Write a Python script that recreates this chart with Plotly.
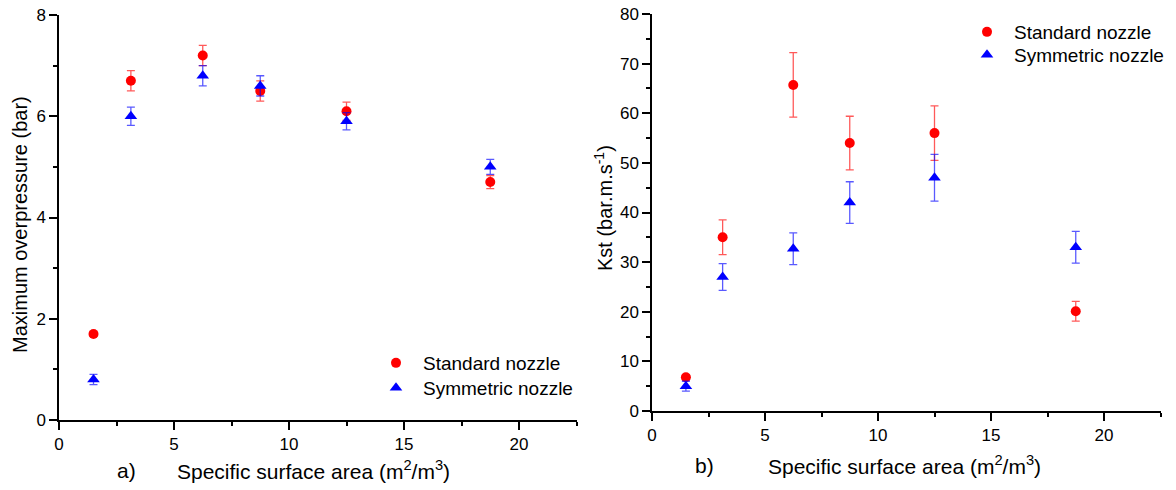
import plotly.graph_objects as go

# ---------------- data ----------------
ssa = [1.5, 3.125, 6.25, 8.75, 12.5, 18.75]

pmax_std = [1.7, 6.7, 7.2, 6.5, 6.1, 4.7]
pmax_std_err = [0.05, 0.2, 0.2, 0.2, 0.18, 0.13]
pmax_sym = [0.8, 6.0, 6.8, 6.6, 5.9, 5.0]
pmax_sym_err = [0.1, 0.18, 0.2, 0.2, 0.17, 0.15]

kst_std = [6.8, 35.0, 65.7, 54.0, 56.0, 20.1]
kst_std_err = [0.5, 3.5, 6.5, 5.4, 5.5, 2.0]
kst_sym = [5.0, 27.0, 32.7, 42.0, 47.0, 33.0]
kst_sym_err = [1.0, 2.7, 3.2, 4.2, 4.7, 3.2]

series_names = ["Standard nozzle", "Symmetric nozzle"]
xtitle = "Specific surface area (m<sup>2</sup>/m<sup>3</sup>)"
ytitle_a = "Maximum overpressure (bar)"
ytitle_b = "Kst (bar.m.s<sup>-1</sup>)"

FONT = "Arial, Liberation Sans, Helvetica, sans-serif"
RED = "#ff0000"
BLUE = "#0000ff"
RED_ERR = "rgba(255,0,0,0.65)"
BLUE_ERR = "rgba(0,0,255,0.65)"

fig = go.Figure()

def add(x, y, err, name, color, ecolor, symbol, size, xa, ya, legend):
    fig.add_trace(go.Scatter(
        x=x, y=y, mode="markers", name=name,
        marker=dict(color=color, symbol=symbol, size=size, line=dict(width=0)),
        error_y=dict(type="data", array=err, visible=True, color=ecolor,
                     thickness=1.3, width=4),
        xaxis=xa, yaxis=ya, legend=legend, showlegend=True,
    ))

add(ssa, pmax_std, pmax_std_err, series_names[0], RED, RED_ERR, "circle", 10, "x", "y", "legend")
add(ssa, pmax_sym, pmax_sym_err, series_names[1], BLUE, BLUE_ERR, "triangle-up", 11, "x", "y", "legend2")
add(ssa, kst_std, kst_std_err, series_names[0], RED, RED_ERR, "circle", 10, "x2", "y2", "legend3")
add(ssa, kst_sym, kst_sym_err, series_names[1], BLUE, BLUE_ERR, "triangle-up", 11, "x2", "y2", "legend4")

W, H = 1176, 490
def fx(px):
    return px / W
def fy(py):
    return 1 - py / H

axis_common = dict(
    showline=True, linecolor="black", linewidth=1.5,
    ticks="outside", ticklen=8, tickwidth=1.5, tickcolor="black",
    showgrid=False, zeroline=False, automargin=False,
    tickfont=dict(family=FONT, size=17, color="black"),
)

def legend_at(left_px, top_px):
    return dict(x=fx(left_px), y=fy(top_px), xanchor="left", yanchor="top",
                font=dict(family=FONT, size=19, color="black"),
                bgcolor="rgba(0,0,0,0)", borderwidth=0, itemwidth=44,
                tracegroupgap=0)

def ann(text, x, y, **kw):
    d = dict(text=text, x=fx(x), y=fy(y), xref="paper", yref="paper",
             showarrow=False, font=dict(family=FONT, size=21, color="black"),
             xanchor="center", yanchor="middle")
    d.update(kw)
    return d

fig.update_layout(
    width=W, height=H,
    margin=dict(l=0, r=0, t=0, b=0, autoexpand=False),
    paper_bgcolor="white", plot_bgcolor="white",
    font=dict(family=FONT, color="black"),
    xaxis=dict(domain=[fx(59), fx(576.5)], range=[0, 22.5], dtick=5, anchor="y",
               minor=dict(dtick=2.5, ticks="outside", ticklen=4, tickwidth=1.5, tickcolor="black"),
               **axis_common),
    yaxis=dict(domain=[fy(420), fy(15)], range=[0, 8], dtick=2, anchor="x",
               minor=dict(dtick=1, ticks="outside", ticklen=4, tickwidth=1.5, tickcolor="black"),
               **axis_common),
    xaxis2=dict(domain=[fx(652), fx(1160.5)], range=[0, 22.5], dtick=5, anchor="y2",
                minor=dict(dtick=2.5, ticks="outside", ticklen=4, tickwidth=1.5, tickcolor="black"),
                **axis_common),
    yaxis2=dict(domain=[fy(411), fy(14)], range=[0, 80], dtick=10, anchor="x2",
                minor=dict(dtick=5, ticks="outside", ticklen=4, tickwidth=1.5, tickcolor="black"),
                **axis_common),
    legend=legend_at(369, 344),
    legend2=legend_at(369, 369),
    legend3=legend_at(960, 13),
    legend4=legend_at(960, 36),
    annotations=[
        ann("a)", 126, 470),
        ann(xtitle, 175, 470, xanchor="left"),
        ann("b)", 704, 465),
        ann(xtitle, 766, 465, xanchor="left"),
        ann(ytitle_a, 20, 225, textangle=-90, font=dict(family=FONT, size=20, color="black")),
        ann(ytitle_b, 603, 208, textangle=-90, font=dict(family=FONT, size=20, color="black")),
    ],
)

fig.write_html("out.html", config={"displayModeBar": False},
               post_script="document.body.style.margin='0px';")
